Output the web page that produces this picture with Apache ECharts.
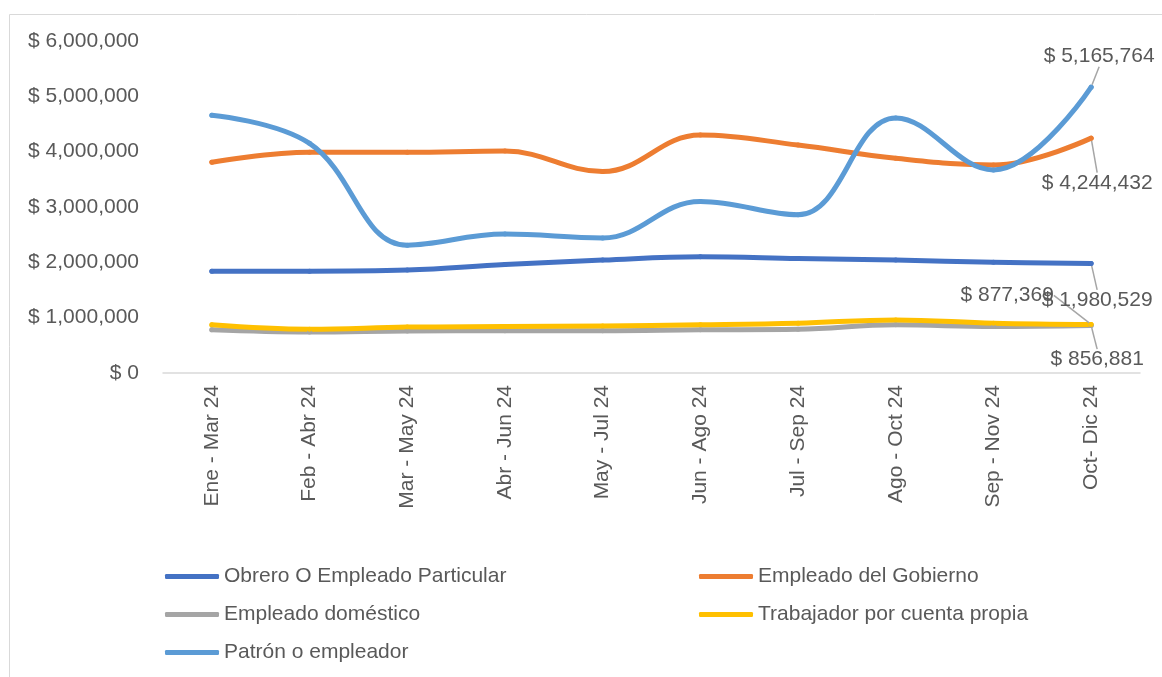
<!DOCTYPE html>
<html>
<head>
<meta charset="utf-8">
<script src="https://cdn.jsdelivr.net/npm/echarts@6/dist/echarts.min.js"></script>
<style>
  html, body { margin: 0; padding: 0; background: #fff; }
  #chart { width: 1162px; height: 677px; }
</style>
</head>
<body>
<div id="chart"></div>
<script>
const categories = ['Ene - Mar 24', 'Feb - Abr 24', 'Mar - May 24', 'Abr - Jun 24', 'May - Jul 24',
    'Jun - Ago 24', 'Jul - Sep 24', 'Ago - Oct 24', 'Sep - Nov 24', 'Oct- Dic 24'];

const obrero = [1840000, 1840000, 1860000, 1960000, 2040000, 2100000, 2070000, 2040000, 2000000, 1980529];
const gobierno = [3810000, 3990000, 3990000, 4010000, 3640000, 4300000, 4120000, 3880000, 3760000, 4244432];
const domestico = [780000, 740000, 760000, 765000, 765000, 780000, 790000, 870000, 840000, 856881];
const cuentaPropia = [870000, 790000, 830000, 840000, 850000, 870000, 900000, 960000, 900000, 877369];
const patron = [4660000, 4150000, 2310000, 2510000, 2440000, 3100000, 2860000, 4610000, 3670000, 5165764];

const yTicks = [0, 1000000, 2000000, 3000000, 4000000, 5000000, 6000000];

const money = (v) => '$ ' + Number(v).toLocaleString('en-US');
const textColor = '#595959';
const fontFamily = '"Liberation Sans", Arial, sans-serif';

// only the last point gets a label, like the excel original
function withLastLabel(values, position) {
    return values.map((v, i) => {
        if (i !== values.length - 1) return v;
        return {
            value: v,
            label: { show: true, position: position },
            labelLine: { show: true }
        };
    });
}

function makeSeries(name, values, color, position, dx, dy) {
    return {
        name: name,
        type: 'line',
        smooth: 0.4,
        symbol: 'circle',
        symbolSize: 5,
        itemStyle: { color: color },
        lineStyle: { color: color, width: 5, cap: 'round', join: 'round' },
        label: {
            show: false,
            color: textColor,
            fontSize: 21,
            fontFamily: fontFamily,
            formatter: (p) => money(p.value)
        },
        labelLine: { show: false, lineStyle: { color: '#a6a6a6', width: 1.5 } },
        labelLayout: { dx: dx, dy: dy },
        data: withLastLabel(values, position)
    };
}

var chartDom = document.getElementById('chart');
var myChart = echarts.init(chartDom);
var option;

option = {
    animation: false,
    textStyle: { fontFamily: fontFamily },
    graphic: [
        {
            type: 'rect',
            left: 7,
            top: 12,
            shape: { width: 1200, height: 700 },
            style: { fill: 'none', stroke: '#d9d9d9', lineWidth: 1 },
            silent: true
        }
    ],
    grid: {
        left: 163,
        right: 22,
        top: 41,
        bottom: 304
    },
    legend: [
        {
            left: 160,
            top: 561,
            orient: 'vertical',
            itemGap: 17,
            itemWidth: 54,
            itemHeight: 5,
            icon: 'roundRect',
            textStyle: { color: textColor, fontSize: 21, fontFamily: fontFamily, lineHeight: 21 },
            data: ['Obrero O Empleado Particular', 'Empleado doméstico', 'Patrón o empleador']
        },
        {
            left: 694,
            top: 561,
            orient: 'vertical',
            itemGap: 17,
            itemWidth: 54,
            itemHeight: 5,
            icon: 'roundRect',
            textStyle: { color: textColor, fontSize: 21, fontFamily: fontFamily, lineHeight: 21 },
            data: ['Empleado del Gobierno', 'Trabajador por cuenta propia']
        }
    ],
    xAxis: {
        type: 'category',
        data: categories,
        boundaryGap: true,
        axisLine: { lineStyle: { color: '#d9d9d9', width: 1.5 } },
        axisTick: { show: false },
        axisLabel: {
            rotate: 90,
            margin: 12,
            color: textColor,
            fontSize: 21,
            fontFamily: fontFamily
        }
    },
    yAxis: {
        type: 'value',
        min: yTicks[0],
        max: yTicks[yTicks.length - 1],
        interval: 1000000,
        splitLine: { show: false },
        axisLine: { show: false },
        axisTick: { show: false },
        axisLabel: {
            margin: 24,
            color: textColor,
            fontSize: 21,
            fontFamily: fontFamily,
            formatter: (value) => money(value)
        }
    },
    series: [
        makeSeries('Obrero O Empleado Particular', obrero, '#4472C4', 'bottom', 6, 19),
        makeSeries('Empleado del Gobierno', gobierno, '#ED7D31', 'bottom', 6, 27),
        makeSeries('Empleado doméstico', domestico, '#A5A5A5', 'bottom', 6, 16),
        makeSeries('Trabajador por cuenta propia', cuentaPropia, '#FFC000', 'top', -84, -11),
        makeSeries('Patrón o empleador', patron, '#5B9BD5', 'top', 8, -13)
    ]
};

option && myChart.setOption(option);
</script>
</body>
</html>
